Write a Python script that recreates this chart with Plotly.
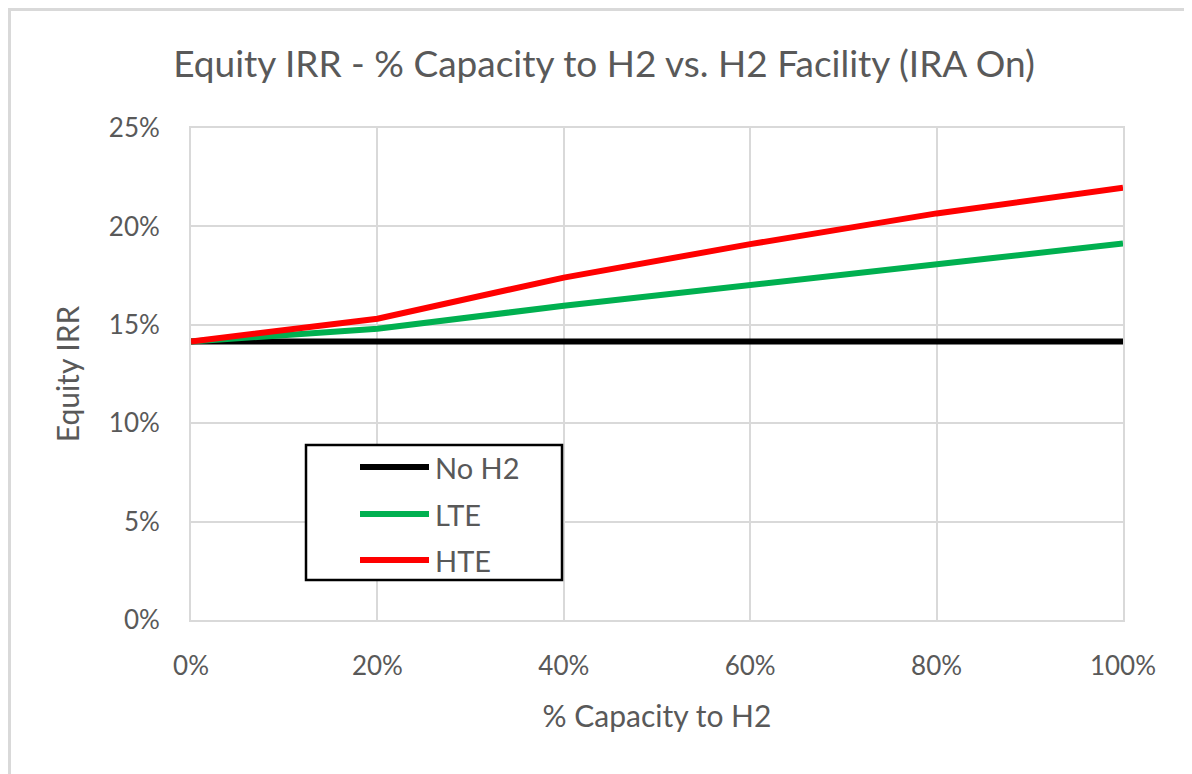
import plotly.graph_objects as go

# Data
capacity = [0.0, 0.2, 0.4, 0.6, 0.8, 1.0]
series_names = ["No H2", "LTE", "HTE"]
no_h2 = [0.1415, 0.1415, 0.1415, 0.1415, 0.1415, 0.1415]
lte = [0.1415, 0.1480, 0.1597, 0.1703, 0.1811, 0.1913]
hte = [0.1415, 0.1531, 0.1740, 0.1910, 0.2066, 0.2196]
colors = ["#000000", "#00B050", "#FF0000"]
x_ticks = [0, 0.2, 0.4, 0.6, 0.8, 1.0]
x_tick_labels = ["0%", "20%", "40%", "60%", "80%", "100%"]
y_ticks = [0, 0.05, 0.10, 0.15, 0.20, 0.25]
y_tick_labels = ["0%", "5%", "10%", "15%", "20%", "25%"]

FONT = "Lato, 'Open Sans', sans-serif"
TXT = "#595959"
GRID = "#d9d9d9"

W, H = 1192, 774
OFF = 8  # page body margin
L, R, T, B = 183, 77, 120, 162
pw, ph = W - L - R, H - T - B

def px_x(sx):
    return (sx - OFF - L) / pw

def px_y(sy):
    return (H - B - (sy - OFF)) / ph

fig = go.Figure()
for name, vals, col in zip(series_names, [no_h2, lte, hte], colors):
    fig.add_trace(go.Scatter(x=capacity, y=vals, mode="lines", name=name,
                             line=dict(color=col, width=6), showlegend=False))

# custom legend (box, sample lines, labels)
shapes = [
    dict(type="rect", xref="paper", yref="paper",
         x0=px_x(9.5), x1=px_x(1400), y0=px_y(9.5), y1=px_y(1000),
         line=dict(color=GRID, width=3), fillcolor="rgba(0,0,0,0)", layer="below"),
    dict(type="rect", xref="paper", yref="paper",
         x0=px_x(306), x1=px_x(562), y0=px_y(445), y1=px_y(580),
         line=dict(color="#000000", width=2.5), fillcolor="#ffffff", layer="above"),
]
annotations = []
row_y = [467, 514, 560]
for name, col, ry in zip(series_names, colors, row_y):
    shapes.append(dict(type="line", xref="paper", yref="paper",
                       x0=px_x(360), x1=px_x(429), y0=px_y(ry), y1=px_y(ry),
                       line=dict(color=col, width=6), layer="above"))
    annotations.append(dict(text=name, xref="paper", yref="paper",
                            x=px_x(433), y=px_y(ry), xanchor="left", yanchor="middle",
                            showarrow=False, font=dict(family=FONT, size=29, color=TXT)))

fig.update_layout(
    width=W, height=H,
    margin=dict(l=L, r=R, t=T, b=B),
    paper_bgcolor="#ffffff", plot_bgcolor="#ffffff",
    title=dict(text="Equity IRR - % Capacity to H2 vs. H2 Facility (IRA On)",
               x=0.5, xanchor="center", xref="container",
               y=1 - (64 - OFF) / H, yanchor="middle",
               font=dict(family=FONT, size=37, color=TXT)),
    shapes=shapes,
    annotations=annotations,
    showlegend=False,
)
fig.update_xaxes(range=[0, 1], tickvals=x_ticks, ticktext=x_tick_labels,
                 showgrid=True, gridcolor=GRID, gridwidth=2,
                 showline=True, linecolor=GRID, linewidth=2, mirror=True,
                 zeroline=False, ticks="outside", ticklen=22, tickcolor="rgba(0,0,0,0)",
                 tickfont=dict(family=FONT, size=26, color=TXT),
                 title=dict(text="% Capacity to H2", standoff=26,
                            font=dict(family=FONT, size=30, color=TXT)))
fig.update_yaxes(range=[0, 0.25], tickvals=y_ticks, ticktext=y_tick_labels,
                 showgrid=True, gridcolor=GRID, gridwidth=2,
                 showline=True, linecolor=GRID, linewidth=2, mirror=True,
                 zeroline=False, ticks="outside", ticklen=24, tickcolor="rgba(0,0,0,0)",
                 tickfont=dict(family=FONT, size=26, color=TXT),
                 title=dict(text="Equity IRR", standoff=20,
                            font=dict(family=FONT, size=30, color=TXT)))

fig.write_html("out.html")
